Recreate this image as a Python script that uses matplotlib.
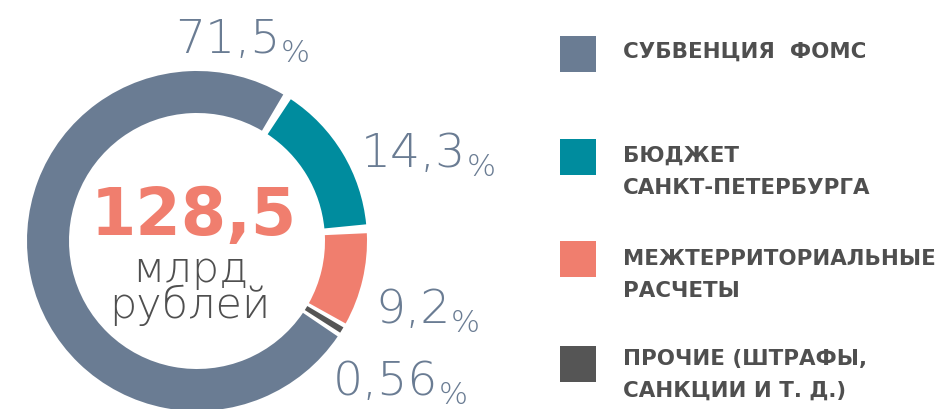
import matplotlib
matplotlib.use("Agg")
import matplotlib.pyplot as plt

# data
categories = ["СУБВЕНЦИЯ  ФОМС", "БЮДЖЕТ\nСАНКТ-ПЕТЕРБУРГА",
              "МЕЖТЕРРИТОРИАЛЬНЫЕ\nРАСЧЕТЫ", "ПРОЧИЕ (ШТРАФЫ,\nСАНКЦИИ И Т. Д.)"]
shares = [71.5, 14.3, 9.2, 0.56]
share_labels = ["71,5", "14,3", "9,2", "0,56"]
total_value = "128,5"
total_unit = "млрд\nрублей"

colors = ["#6a7c93", "#008c9e", "#f07e6e", "#555555"]
txt_gray = "#4f4f4f"
pct_color = "#6a7c93"

W, H = 940, 410
fig = plt.figure(figsize=(W / 100, H / 100), dpi=100)
ax = fig.add_axes([0, 0, 1, 1])

cx, cy, R = 197, H - 242, 170
ring = 42

# slate wedge ends ~32 deg clockwise from top
start = 90 - 32 + 360 * shares[0] / sum(shares)
wedges, _ = ax.pie(shares, colors=colors, startangle=start, counterclock=False,
                   center=(cx, cy), radius=R,
                   wedgeprops=dict(width=ring, linewidth=0))
# white gaps between segments
gap = 1.5
for w, v in zip(wedges, shares):
    if v > 2:
        w.set_theta1(w.theta1 + gap)
        w.set_theta2(w.theta2 - gap)

ax.set_xlim(0, W)
ax.set_ylim(0, H)
ax.set_aspect("equal")
ax.axis("off")

thin = dict(family="DejaVu Sans", fontweight="light")

# percentage labels
pct_pos = [(175, 53), (361, 167), (375, 323), (333, 395)]
for lab, (x, y) in zip(share_labels, pct_pos):
    t = ax.text(x, H - y, lab, fontsize=34, color=pct_color, ha="left",
                va="baseline", **thin)
    ax.annotate("%", xycoords=t, xy=(1, 0), xytext=(0, 0), textcoords="offset points",
                fontsize=22, color=pct_color, ha="left", va="baseline", **thin)

# center text
ax.text(194, H - 235, total_value, fontsize=47, color="#f07e6e",
        family="DejaVu Sans", fontweight="bold", ha="center", va="baseline")
ax.text(190, H - 318, total_unit, fontsize=31, color=txt_gray, ha="center",
        va="baseline", multialignment="center", linespacing=0.84, **thin)

# legend
sq_top = [37, 140, 242, 347]
txt_base = [58, 162, 265, 365]
for cat, c, t, b in zip(categories, colors, sq_top, txt_base):
    ax.add_patch(plt.Rectangle((560, H - t - 36), 36, 36, color=c, lw=0))
    for i, line in enumerate(cat.split("\n")):
        ax.text(623, H - b - i * 32, line, fontsize=15.4, color=txt_gray,
                family="DejaVu Sans", fontweight="bold", ha="left", va="baseline")

fig.savefig("out.png", dpi=100, facecolor="white")
